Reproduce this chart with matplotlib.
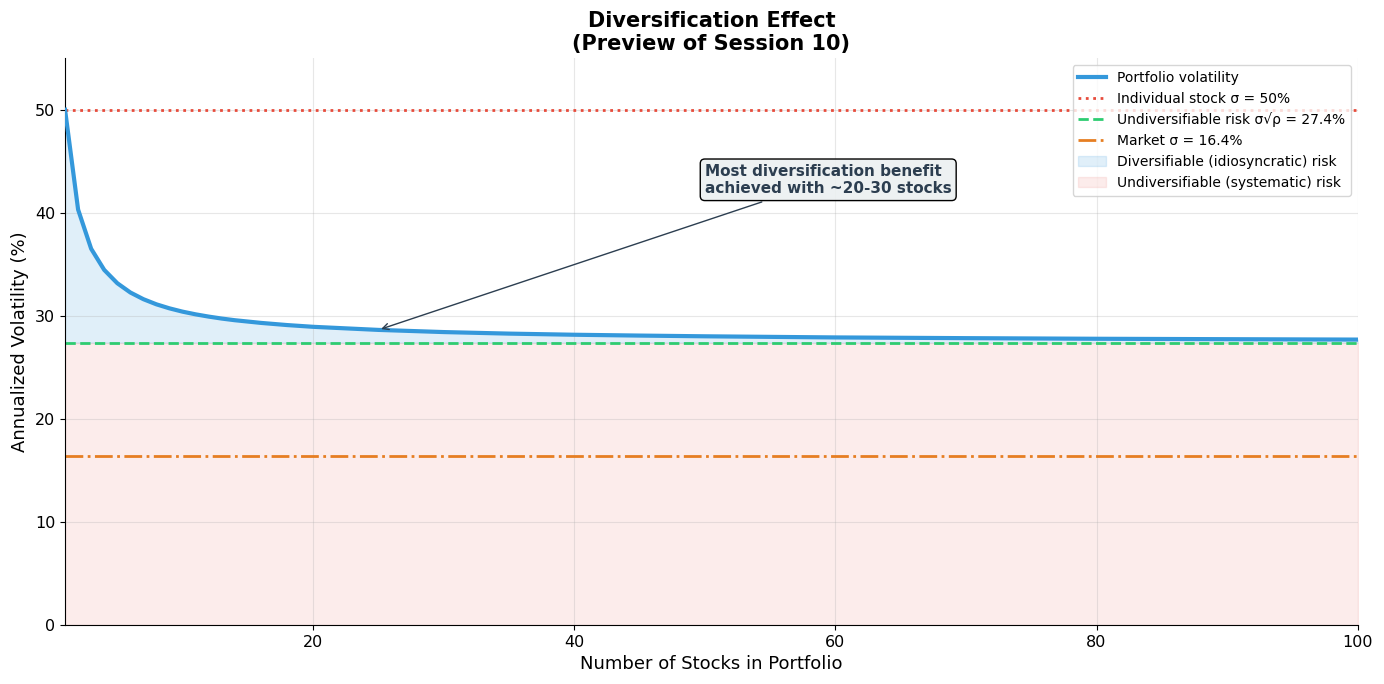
import numpy as np
import matplotlib
matplotlib.use('Agg')
import matplotlib.pyplot as plt

# values
n_stocks = [1, 2, 3, 4, 5, 6, 7, 8, 9, 10, 11, 12, 13, 14, 16, 18, 20, 25, 30, 35,
            40, 45, 50, 60, 70, 80, 90, 100]
port_vol = [50.0, 40.31, 36.51, 34.46, 33.17, 32.27, 31.62, 31.12, 30.73, 30.41, 30.15,
            29.93, 29.74, 29.58, 29.32, 29.11, 28.94, 28.64, 28.43, 28.28,
            28.17, 28.09, 28.02, 27.91, 27.84, 27.78, 27.74, 27.70]
sigma_stock = 50.0
undiv_risk = 27.4
market_sigma = 16.4

fig, ax = plt.subplots(figsize=(13.84, 6.84), dpi=100)

x = np.array(n_stocks)
y = np.array(port_vol)

ax.fill_between(x, undiv_risk, y, color='#3498db', alpha=0.15,
                label='Diversifiable (idiosyncratic) risk')
ax.fill_between(x, 0, undiv_risk, color='#e74c3c', alpha=0.1,
                label='Undiversifiable (systematic) risk')

ax.plot(x, y, color='#3498db', lw=3, label='Portfolio volatility', zorder=3)
ax.axhline(sigma_stock, color='#e74c3c', ls=':', lw=2, label='Individual stock σ = 50%')
ax.axhline(undiv_risk, color='#2ecc71', ls='--', lw=2,
           label='Undiversifiable risk σ√ρ = 27.4%')
ax.axhline(market_sigma, color='#e67e22', ls='-.', lw=2, label='Market σ = 16.4%')

ax.annotate('Most diversification benefit\nachieved with ~20-30 stocks',
            xy=(25, 28.64), xytext=(50, 43.2), ha='left', va='center',
            fontsize=11, fontweight='bold', color='#2c3e50',
            bbox=dict(boxstyle='round,pad=0.3', facecolor=(0.925, 0.94, 0.945, 0.9),
                      edgecolor='black'),
            arrowprops=dict(arrowstyle='->', color='#2c3e50', lw=1))

ax.set_xlim(1, 100)
ax.set_ylim(0, 55)
ax.set_xlabel('Number of Stocks in Portfolio', fontsize=13)
ax.set_ylabel('Annualized Volatility (%)', fontsize=13)
ax.set_title('Diversification Effect\n(Preview of Session 10)', fontsize=15, fontweight='bold')
ax.tick_params(labelsize=11.5)
ax.grid(True, alpha=0.3)
ax.spines['top'].set_visible(False)
ax.spines['right'].set_visible(False)

handles, labels = ax.get_legend_handles_labels()
order = [2, 3, 4, 5, 0, 1]
ax.legend([handles[i] for i in order], [labels[i] for i in order],
          loc='upper right', fontsize=10)

plt.subplots_adjust(left=0.047, right=0.981, top=0.915, bottom=0.086)
plt.savefig('out.png')
